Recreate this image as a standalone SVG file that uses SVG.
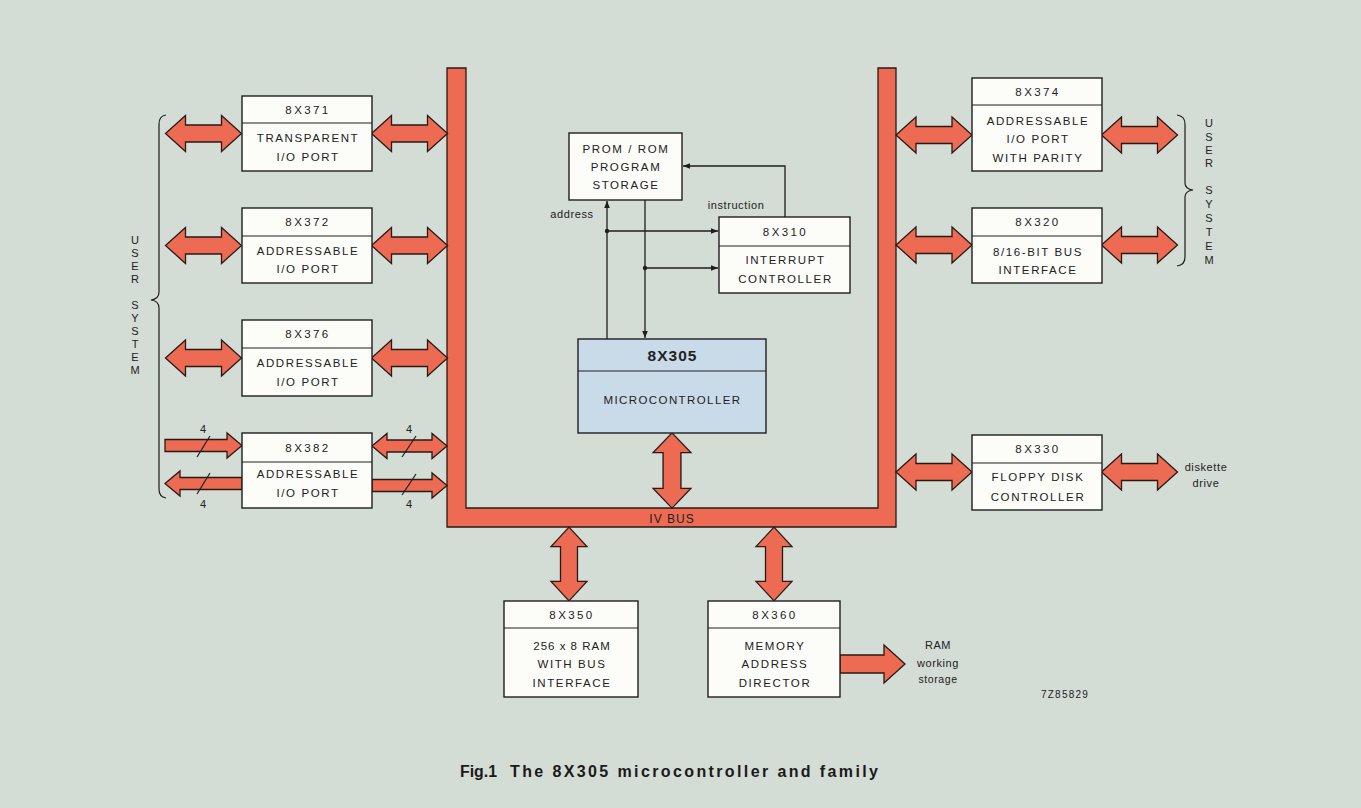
<svg xmlns="http://www.w3.org/2000/svg" xmlns:xlink="http://www.w3.org/1999/xlink" width="1361" height="808" viewBox="0 0 1361 808">
  <style>
    .bg { fill: #d3dcd5; }
    .box { fill: #fcfcf8; stroke: #1e1e1e; stroke-width: 1.4; }
    .cpu { fill: #c9dbe8; stroke: #1e1e1e; stroke-width: 1.4; }
    .div { stroke: #1e1e1e; stroke-width: 1.2; }
    .blk { fill: #ec6b52; stroke: #2a1a16; stroke-width: 1.3; stroke-linejoin: miter; }
    .wire { fill: none; stroke: #1e1e1e; stroke-width: 1.3; }
    .thin { fill: none; stroke: #1e1e1e; stroke-width: 1.2; }
    text { font-family: "Liberation Sans", Arial, sans-serif; fill: #222; }
    .t { font-size: 11.5px; letter-spacing: 1.6px; text-anchor: middle; }
    .h { font-size: 11.5px; letter-spacing: 2.4px; text-anchor: middle; }
    .s { font-size: 11px; letter-spacing: 0.6px; text-anchor: middle; }
    .v { font-size: 11px; text-anchor: middle; }
    .cap { font-size: 16px; font-weight: bold; fill: #1a1a1a; }
  </style>
  <defs>
    <!-- wide double-headed block arrow, 76 long, centred on origin -->
    <path id="dbl" d="M-38,0 L-18,-18 L-18,-8.5 L18,-8.5 L18,-18 L38,0 L18,18 L18,8.5 L-18,8.5 L-18,18 Z"/>
    <marker id="tip" viewBox="0 0 10 10" refX="10" refY="5" markerWidth="7" markerHeight="7" orient="auto" markerUnits="userSpaceOnUse">
      <path d="M0,1 L10,5 L0,9 Z" fill="#1e1e1e"/>
    </marker>
  </defs>

  <rect class="bg" x="0" y="0" width="1361" height="808"/>

  <!-- IV bus -->
  <g id="iv-bus">
    <path class="blk" d="M447,68 L466,68 L466,508 L878,508 L878,68 L896,68 L896,527 L447,527 Z"/>
    <text x="672" y="523" style="font-size:12px;letter-spacing:1px;text-anchor:middle;">IV BUS</text>
  </g>

  <!-- connectors -->
  <g id="connectors">
    <!-- left column -->
    <use xlink:href="#dbl" transform="translate(203.5,133.5)" class="blk"/>
    <use xlink:href="#dbl" transform="translate(409.5,133.5)" class="blk"/>
    <use xlink:href="#dbl" transform="translate(203.5,245.5)" class="blk"/>
    <use xlink:href="#dbl" transform="translate(409.5,245.5)" class="blk"/>
    <use xlink:href="#dbl" transform="translate(203.5,358)" class="blk"/>
    <use xlink:href="#dbl" transform="translate(409.5,358)" class="blk"/>

    <!-- 4-bit links of the 8X382 -->
    <path class="blk" d="M165,439.5 L227,439.5 L227,433 L242,445.5 L227,458 L227,451.5 L165,451.5 Z"/>
    <path class="blk" d="M242,477.5 L180,477.5 L180,471 L165,483.5 L180,496 L180,489.5 L242,489.5 Z"/>
    <path class="blk" d="M372,446 L387,433.5 L387,440 L432,440 L432,433.5 L447,446 L432,458.5 L432,452 L387,452 L387,458.5 Z"/>
    <path class="blk" d="M372,479.5 L432,479.5 L432,473 L447,485.5 L432,498 L432,491.5 L372,491.5 Z"/>
    <line class="thin" x1="197" y1="457" x2="210" y2="436"/>
    <line class="thin" x1="197" y1="494" x2="210" y2="473"/>
    <line class="thin" x1="402" y1="457" x2="416" y2="436"/>
    <line class="thin" x1="402" y1="495" x2="416" y2="474"/>
    <text class="v" x="203" y="433">4</text>
    <text class="v" x="203" y="508">4</text>
    <text class="v" x="409" y="433">4</text>
    <text class="v" x="409" y="508">4</text>

    <!-- right column -->
    <use xlink:href="#dbl" transform="translate(934,135)" class="blk"/>
    <use xlink:href="#dbl" transform="translate(1139.5,135)" class="blk"/>
    <use xlink:href="#dbl" transform="translate(934,245)" class="blk"/>
    <use xlink:href="#dbl" transform="translate(1139.5,245)" class="blk"/>
    <use xlink:href="#dbl" transform="translate(934,472)" class="blk"/>
    <use xlink:href="#dbl" transform="translate(1139.5,472)" class="blk"/>

    <!-- vertical bus links -->
    <use xlink:href="#dbl" transform="translate(672,470.5) rotate(90) scale(0.99,1.05)" class="blk"/>
    <use xlink:href="#dbl" transform="translate(569,564) rotate(90) scale(0.97,1)" class="blk"/>
    <use xlink:href="#dbl" transform="translate(774,564) rotate(90) scale(0.97,1)" class="blk"/>

    <!-- RAM output -->
    <path class="blk" d="M840,655 L884,655 L884,645 L905,664 L884,683 L884,673 L840,673 Z"/>

    <!-- program memory wiring -->
    <line class="wire" x1="607" y1="339" x2="607" y2="201" marker-end="url(#tip)"/>
    <line class="wire" x1="645" y1="200" x2="645" y2="338" marker-end="url(#tip)"/>
    <line class="wire" x1="607" y1="231" x2="718" y2="231" marker-end="url(#tip)"/>
    <line class="wire" x1="645" y1="268" x2="718" y2="268" marker-end="url(#tip)"/>
    <polyline class="wire" points="785,217 785,166 683,166" marker-end="url(#tip)"/>
    <circle cx="607" cy="231" r="2.2" fill="#1e1e1e"/>
    <circle cx="645" cy="268" r="2.2" fill="#1e1e1e"/>
    <text class="s" x="736" y="209">instruction</text>
    <text class="s" x="572" y="218">address</text>

    <!-- user system braces -->
    <path class="thin" d="M166,115 Q159,116 159,124 L159,292 Q159,299 151,300 Q159,301 159,308 L159,489 Q159,497 166,498"/>
    <path class="thin" d="M1177,115 Q1185,116 1185,124 L1185,183 Q1185,189 1193,190 Q1185,191 1185,197 L1185,257 Q1185,265 1177,266"/>
  </g>

  <!-- user system labels -->
  <g id="user-system-left">
    <text class="v" x="135" y="244">U</text>
    <text class="v" x="135" y="257">S</text>
    <text class="v" x="135" y="270">E</text>
    <text class="v" x="135" y="283">R</text>
    <text class="v" x="135" y="309">S</text>
    <text class="v" x="135" y="322">Y</text>
    <text class="v" x="135" y="335">S</text>
    <text class="v" x="135" y="348">T</text>
    <text class="v" x="135" y="361">E</text>
    <text class="v" x="135" y="374">M</text>
  </g>
  <g id="user-system-right">
    <text class="v" x="1209" y="127">U</text>
    <text class="v" x="1209" y="141">S</text>
    <text class="v" x="1209" y="154">E</text>
    <text class="v" x="1209" y="167">R</text>
    <text class="v" x="1209" y="194">S</text>
    <text class="v" x="1209" y="208">Y</text>
    <text class="v" x="1209" y="222">S</text>
    <text class="v" x="1209" y="236">T</text>
    <text class="v" x="1209" y="250">E</text>
    <text class="v" x="1209" y="264">M</text>
  </g>

  <!-- left I/O ports -->
  <g id="n8x371">
    <rect class="box" x="242" y="96" width="130" height="75"/>
    <line class="div" x1="242" y1="123" x2="372" y2="123"/>
    <text class="h" x="308" y="113.5">8X371</text>
    <text class="t" x="308" y="142">TRANSPARENT</text>
    <text class="t" x="308" y="161">I/O PORT</text>
  </g>
  <g id="n8x372">
    <rect class="box" x="242" y="208" width="130" height="75"/>
    <line class="div" x1="242" y1="236" x2="372" y2="236"/>
    <text class="h" x="308" y="226">8X372</text>
    <text class="t" x="308" y="255">ADDRESSABLE</text>
    <text class="t" x="308" y="273">I/O PORT</text>
  </g>
  <g id="n8x376">
    <rect class="box" x="242" y="320" width="130" height="76"/>
    <line class="div" x1="242" y1="348" x2="372" y2="348"/>
    <text class="h" x="308" y="338">8X376</text>
    <text class="t" x="308" y="367">ADDRESSABLE</text>
    <text class="t" x="308" y="386">I/O PORT</text>
  </g>
  <g id="n8x382">
    <rect class="box" x="242" y="433" width="130" height="75"/>
    <line class="div" x1="242" y1="462" x2="372" y2="462"/>
    <text class="h" x="308" y="451.5">8X382</text>
    <text class="t" x="308" y="478">ADDRESSABLE</text>
    <text class="t" x="308" y="497">I/O PORT</text>
  </g>

  <!-- program storage and interrupt controller -->
  <g id="prom">
    <rect class="box" x="569" y="133" width="113" height="67"/>
    <text class="t" x="626" y="153">PROM / ROM</text>
    <text class="t" x="626" y="171">PROGRAM</text>
    <text class="t" x="626" y="189">STORAGE</text>
  </g>
  <g id="n8x310">
    <rect class="box" x="719" y="217" width="131" height="76"/>
    <line class="div" x1="719" y1="246" x2="850" y2="246"/>
    <text class="h" x="785.5" y="235.5">8X310</text>
    <text class="t" x="785.5" y="264">INTERRUPT</text>
    <text class="t" x="785.5" y="283">CONTROLLER</text>
  </g>

  <!-- microcontroller -->
  <g id="n8x305">
    <rect class="cpu" x="578" y="339" width="188" height="94"/>
    <line class="div" x1="578" y1="371" x2="766" y2="371"/>
    <text x="672.5" y="360.5" style="font-size:15.5px;font-weight:bold;letter-spacing:1px;text-anchor:middle;">8X305</text>
    <text class="t" x="672.5" y="404" style="letter-spacing:1.4px;">MICROCONTROLLER</text>
  </g>

  <!-- right I/O devices -->
  <g id="n8x374">
    <rect class="box" x="972" y="78" width="130" height="93"/>
    <line class="div" x1="972" y1="105" x2="1102" y2="105"/>
    <text class="h" x="1038" y="95.5">8X374</text>
    <text class="t" x="1038" y="125">ADDRESSABLE</text>
    <text class="t" x="1038" y="143">I/O PORT</text>
    <text class="t" x="1038" y="162">WITH PARITY</text>
  </g>
  <g id="n8x320">
    <rect class="box" x="972" y="208" width="130" height="75"/>
    <line class="div" x1="972" y1="236" x2="1102" y2="236"/>
    <text class="h" x="1038" y="226">8X320</text>
    <text class="t" x="1038" y="256">8/16-BIT BUS</text>
    <text class="t" x="1038" y="274">INTERFACE</text>
  </g>
  <g id="n8x330">
    <rect class="box" x="972" y="435" width="130" height="75"/>
    <line class="div" x1="972" y1="463" x2="1102" y2="463"/>
    <text class="h" x="1038" y="453">8X330</text>
    <text class="t" x="1038" y="481">FLOPPY DISK</text>
    <text class="t" x="1038" y="501">CONTROLLER</text>
  </g>
  <g id="diskette">
    <text class="s" x="1206" y="471">diskette</text>
    <text class="s" x="1206" y="487">drive</text>
  </g>

  <!-- memory -->
  <g id="n8x350">
    <rect class="box" x="504" y="601" width="134" height="96"/>
    <line class="div" x1="504" y1="628" x2="638" y2="628"/>
    <text class="h" x="572" y="618.5">8X350</text>
    <text class="t" x="572" y="650" style="letter-spacing:1px;">256 x 8 RAM</text>
    <text class="t" x="572" y="668">WITH BUS</text>
    <text class="t" x="572" y="687">INTERFACE</text>
  </g>
  <g id="n8x360">
    <rect class="box" x="708" y="601" width="132" height="96"/>
    <line class="div" x1="708" y1="628" x2="840" y2="628"/>
    <text class="h" x="775" y="618.5">8X360</text>
    <text class="t" x="775" y="650">MEMORY</text>
    <text class="t" x="775" y="668">ADDRESS</text>
    <text class="t" x="775" y="687">DIRECTOR</text>
  </g>
  <g id="ram-storage">
    <text class="s" x="938" y="649">RAM</text>
    <text class="s" x="938" y="667">working</text>
    <text class="s" x="938" y="683" style="font-size:10.5px;">storage</text>
  </g>

  <text x="1065" y="698" style="font-size:10px;letter-spacing:1.2px;text-anchor:middle;">7Z85829</text>

  <!-- caption -->
  <g id="caption">
    <text class="cap" x="460" y="777" textLength="37" lengthAdjust="spacingAndGlyphs">Fig.1</text>
    <text class="cap" x="510" y="777" textLength="368" lengthAdjust="spacing">The 8X305 microcontroller and family</text>
  </g>
</svg>
